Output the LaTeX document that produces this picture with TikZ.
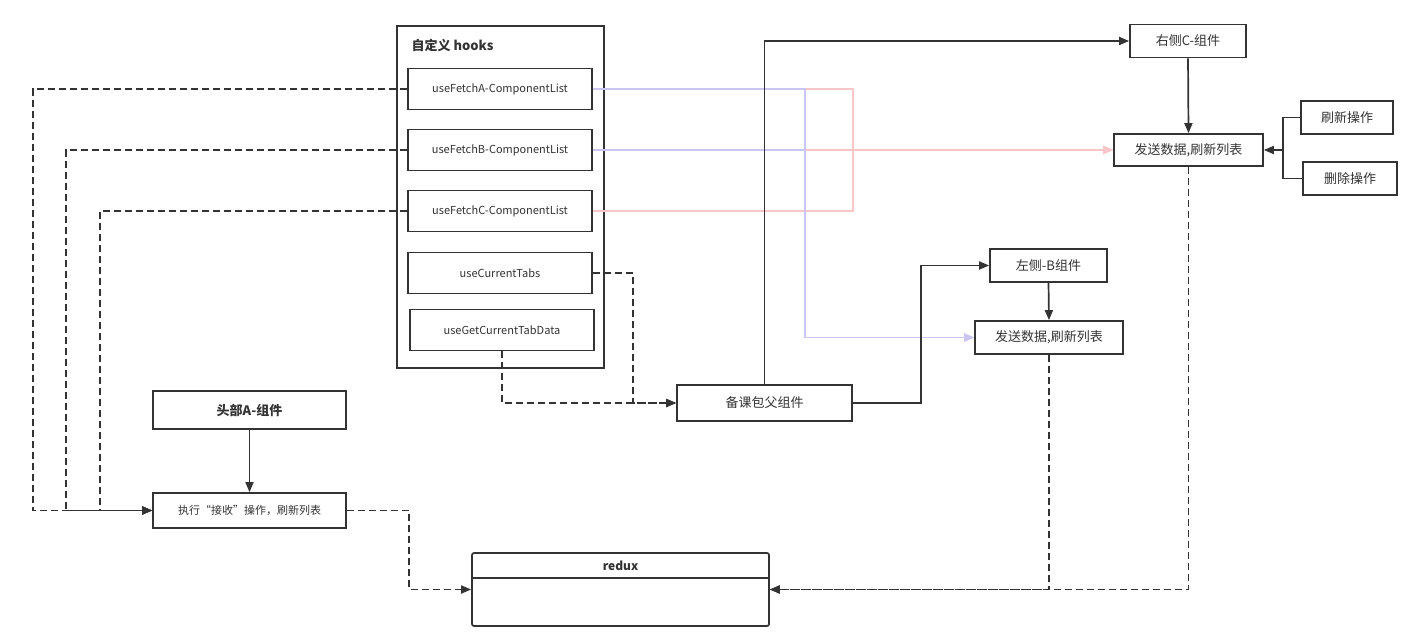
\documentclass[tikz,border=0pt]{standalone}
\usepackage{fontspec}
\setmainfont{Noto Sans CJK SC}
\usetikzlibrary{arrows.meta}
\definecolor{ln}{HTML}{333333}
\definecolor{lav}{HTML}{C9C6F4}
\definecolor{pk}{HTML}{F8C6C8}
\tikzset{
  box/.style={draw=ln, line width=1.7pt, fill=white, inner sep=0pt, font=\fontsize{13}{15}\selectfont, text=ln},
  hk/.style={box, minimum width=184, minimum height=41, font=\fontsize{11}{13}\selectfont},
  arr/.style={draw=ln, line width=1.7pt, -{Triangle[length=10pt,width=8pt]}},
  sl/.style={draw=ln, line width=1.7pt},
  dsh/.style={draw=ln, line width=1.7pt, dash pattern=on 7pt off 4pt, -{Triangle[length=10pt,width=8pt]}},
  bl/.style={draw=lav, line width=1.8pt, -{Triangle[length=10pt,width=8pt]}},
  pl/.style={draw=pk, line width=1.8pt, -{Triangle[length=10pt,width=8pt]}},
}
\begin{document}
\begin{tikzpicture}[x=1pt,y=-1pt]
\fill[white] (0,0) rectangle (1410,636);
\useasboundingbox (0,0) rectangle (1410,636);

% hooks container
\node[box, minimum width=207, minimum height=342] (hooks) at (500.5,197) {};
\node[anchor=west, font=\fontsize{13}{15}\selectfont\bfseries, text=ln] (title) at (408,46) {自定义 hooks};
\node[hk] (fa) at (500,89) {useFetchA-ComponentList};
\node[hk] (fb) at (500,150) {useFetchB-ComponentList};
\node[hk] (fc) at (500,211) {useFetchC-ComponentList};
\node[hk] (ct) at (500,273) {useCurrentTabs};
\node[hk] (gd) at (502,330) {useGetCurrentTabData};

% right side
\node[box, minimum width=116, minimum height=33] (rc) at (1188,41) {右侧C-组件};
\node[box, minimum width=149, minimum height=32] (sr) at (1188.5,150) {发送数据,刷新列表};
\node[box, minimum width=92, minimum height=33] (rf) at (1347,117.5) {刷新操作};
\node[box, minimum width=94, minimum height=33] (dl) at (1350,178.5) {删除操作};
\node[box, minimum width=117, minimum height=33] (lb) at (1048.5,265.5) {左侧-B组件};
\node[box, minimum width=148, minimum height=33] (sb) at (1049,337.5) {发送数据,刷新列表};
\node[box, minimum width=175, minimum height=36] (pa) at (764.5,403) {备课包父组件};
\node[box, minimum width=193, minimum height=38, font=\fontsize{13}{15}\selectfont\bfseries] (ha) at (249.5,410) {头部A-组件};
\node[box, minimum width=193, minimum height=35, font=\fontsize{11}{13}\selectfont] (ex) at (249.5,510.5) {执行“接收”操作，刷新列表};

% redux
\node[box, rounded corners=2pt, minimum width=297, minimum height=73] (rx) at (620.5,589.5) {};
\draw[sl, line width=1.4pt] (472,578) -- (769,578);
\node[font=\fontsize{12}{14}\selectfont\bfseries, text=ln] (rxt) at (620.5,565.5) {redux};

% pink lines
\draw[pl] (fa.east) -- (853,89) |- (sr.west);
\draw[pl] (fc.east) -- (853,211) |- (sr.west);
\draw[pl] (fb.east) -- (sr.west);
% blue lines
\draw[bl] (fa.east) -- (805,89) |- (sb.west);
\draw[bl] (fb.east) -- (805,150) |- (sb.west);

% solid connectors
\draw[arr] (pa.north) |- (rc.west);
\draw[arr] (pa.east) -- (921,403) |- (lb.west);
\draw[arr] (rc.south) -- (sr.north);
\draw[arr] (lb.south) -- (sb.north);
\draw[arr] (rf.west) -- (1283,117.5) |- (sr.east);
\draw[sl] (dl.west) -- (1283,178.5) -- (1283,150);
\draw[arr] (ha.south) -- (ex.north);

% dashed connectors
\draw[dsh] (fa.west) -- (33,89) |- (ex.west);
\draw[dsh] (fb.west) -- (66,150) |- (ex.west);
\draw[dsh] (fc.west) -- (100,211) |- (ex.west);
\draw[dsh] (ct.east) -- (633,273) |- (pa.west);
\draw[dsh] (gd.south) |- (pa.west);
\draw[dsh] (ex.east) -- (409,510.5) |- (rx.west);
\draw[dsh] (sb.south) |- (rx.east);
\draw[dsh] (sr.south) |- (rx.east);
\end{tikzpicture}
\end{document}
